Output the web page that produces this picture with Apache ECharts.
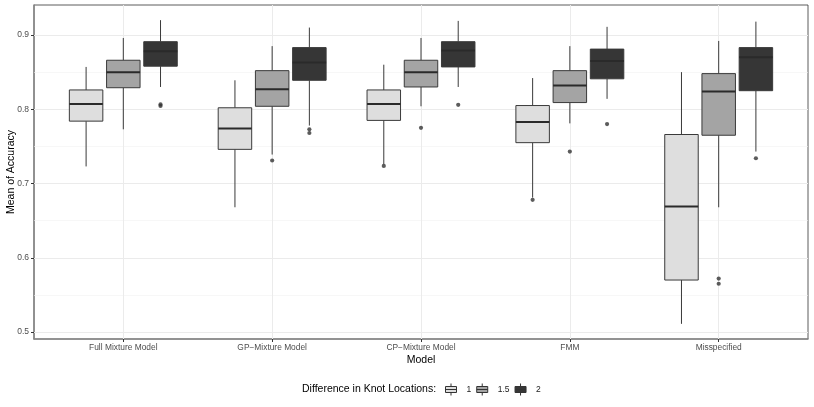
<!DOCTYPE html>
<html>
<head>
<meta charset="utf-8">
<script src="https://cdn.jsdelivr.net/npm/echarts@6/dist/echarts.min.js"></script>
<style>html,body{margin:0;padding:0;background:#fff}#c{width:814px;height:407px}</style>
</head>
<body>
<div id="c"></div>
<script>
// ---- data ----
const categories = ['Full Mixture Model', 'GP\u2212Mixture Model', 'CP\u2212Mixture Model', 'FMM', 'Misspecified'];
const groups = ['1', '1.5', '2'];
const yTicks = [0.5, 0.6, 0.7, 0.8, 0.9];
const yMinorTicks = [0.55, 0.65, 0.75, 0.85];
// [lower whisker, Q1, median, Q3, upper whisker] per category
const knot1 = [
  [0.723, 0.784, 0.807, 0.826, 0.857],
  [0.668, 0.746, 0.774, 0.802, 0.839],
  [0.726, 0.785, 0.807, 0.826, 0.860],
  [0.681, 0.755, 0.783, 0.805, 0.842],
  [0.511, 0.570, 0.669, 0.766, 0.850]
];
const knot15 = [
  [0.773, 0.829, 0.850, 0.866, 0.896],
  [0.739, 0.804, 0.827, 0.852, 0.885],
  [0.804, 0.830, 0.850, 0.866, 0.896],
  [0.781, 0.809, 0.832, 0.852, 0.885],
  [0.668, 0.765, 0.824, 0.848, 0.892]
];
const knot2 = [
  [0.830, 0.858, 0.878, 0.891, 0.920],
  [0.778, 0.839, 0.863, 0.883, 0.910],
  [0.830, 0.857, 0.879, 0.891, 0.919],
  [0.814, 0.841, 0.865, 0.881, 0.911],
  [0.743, 0.825, 0.870, 0.883, 0.918]
];
// [category index, group index, value]
const outliers = [
  [0, 2, 0.8065], [0, 2, 0.8045],
  [1, 1, 0.731], [1, 2, 0.773], [1, 2, 0.768],
  [2, 0, 0.7237], [2, 1, 0.775], [2, 2, 0.806],
  [3, 0, 0.678], [3, 1, 0.743], [3, 2, 0.780],
  [4, 1, 0.572], [4, 1, 0.565], [4, 2, 0.734]
];

// ---- styling ----
const fills = ['#dedede', '#a4a4a4', '#363636'];
const offsets = [-0.25, 0, 0.25];
const boxWidth = 0.225;
const lineCol = '#3a3a3a';
const FONT = 'Liberation Sans, Arial, Helvetica, sans-serif';

function renderBox(params, api) {
  const x = api.value(0);
  const lo = api.coord([x, api.value(1)]);
  const q1 = api.coord([x, api.value(2)]);
  const md = api.coord([x, api.value(3)]);
  const q3 = api.coord([x, api.value(4)]);
  const hi = api.coord([x, api.value(5)]);
  const hw = api.size([boxWidth, 0])[0] / 2;
  const cx = lo[0];
  const fill = api.visual('color');
  return {
    type: 'group',
    children: [
      { type: 'line', shape: { x1: cx, y1: hi[1], x2: cx, y2: q3[1] }, style: { stroke: lineCol, lineWidth: 1 } },
      { type: 'line', shape: { x1: cx, y1: q1[1], x2: cx, y2: lo[1] }, style: { stroke: lineCol, lineWidth: 1 } },
      { type: 'rect', shape: { x: cx - hw, y: q3[1], width: hw * 2, height: q1[1] - q3[1] }, style: { fill: fill, stroke: lineCol, lineWidth: 1 } },
      { type: 'line', shape: { x1: cx - hw, y1: md[1], x2: cx + hw, y2: md[1] }, style: { stroke: '#2a2a2a', lineWidth: 2 } }
    ]
  };
}

const groupData = [knot1, knot15, knot2];
const boxSeries = groupData.map((arr, g) => ({
  name: groups[g],
  type: 'custom',
  renderItem: renderBox,
  itemStyle: { color: fills[g] },
  encode: { x: 0, y: [1, 2, 3, 4, 5] },
  data: arr.map((v, i) => [i + offsets[g]].concat(v)),
  z: 10
}));

const gridMarks = {
  name: 'grid',
  type: 'scatter',
  data: [],
  silent: true,
  z: 1,
  markLine: {
    silent: true,
    symbol: 'none',
    animation: false,
    z: 1,
    label: { show: false },
    data: [
      ...yTicks.map(v => ({ yAxis: v, lineStyle: { color: '#ebebeb', width: 1, type: 'solid' } })),
      ...yMinorTicks.map(v => ({ yAxis: v, lineStyle: { color: '#f2f2f2', width: 0.6, type: 'solid' } })),
      ...categories.map((c, i) => ({ xAxis: i, lineStyle: { color: '#ebebeb', width: 1, type: 'solid' } }))
    ]
  }
};

const outlierSeries = {
  name: 'outliers',
  type: 'scatter',
  symbolSize: 4.2,
  itemStyle: { color: '#333333' },
  data: outliers.map(o => [o[0] + offsets[o[1]], o[2]]),
  z: 12
};

const boxIcon = 'path://M5.5,0L5.5,3M0,3L11,3L11,9L0,9ZM0,6L11,6M5.5,9L5.5,12';

const chart = echarts.init(document.getElementById('c'), null, { renderer: 'canvas' });
chart.setOption({
  animation: false,
  backgroundColor: '#ffffff',
  textStyle: { fontFamily: FONT },
  grid: { left: 34, right: 6, top: 5, bottom: 68, containLabel: false, outerBoundsMode: 'none', show: true, borderColor: '#333333', borderWidth: 0.8, backgroundColor: 'transparent' },
  xAxis: {
    type: 'value',
    min: -0.6,
    max: 4.6,
    name: 'Model',
    nameLocation: 'middle',
    nameGap: 15.5,
    nameMoveOverlap: false,
    nameTextStyle: { color: '#000', fontSize: 10.5, fontFamily: FONT },
    axisLine: { show: true, onZero: false, lineStyle: { color: '#8a8a8a', width: 1.6 } },
    axisTick: { show: true, length: 3, customValues: categories.map((c, i) => i), lineStyle: { color: '#333' } },
    axisLabel: { show: true, margin: 5, customValues: categories.map((c, i) => i), formatter: v => categories[Math.round(v)], color: '#4d4d4d', fontSize: 8.4, fontFamily: FONT },
    splitLine: { show: false }
  },
  yAxis: {
    type: 'value',
    min: 0.4906,
    max: 0.9404,
    name: 'Mean of Accuracy',
    nameLocation: 'middle',
    nameGap: 17,
    nameRotate: 90,
    nameMoveOverlap: false,
    nameTextStyle: { color: '#000', fontSize: 10.5, fontFamily: FONT },
    axisLine: { show: true, onZero: false, lineStyle: { color: '#8a8a8a', width: 1.6 } },
    axisTick: { show: true, length: 3, customValues: yTicks, lineStyle: { color: '#333' } },
    axisLabel: { show: true, margin: 5, customValues: yTicks, formatter: v => v.toFixed(1), color: '#4d4d4d', fontSize: 8.5, fontFamily: FONT },
    splitLine: { show: false }
  },
  legend: {
    left: 445,
    top: 383,
    padding: 0,
    orient: 'horizontal',
    itemWidth: 11,
    itemHeight: 12,
    itemGap: 5,
    selectedMode: false,
    formatter: n => '{t|' + n + '}',
    textStyle: { rich: { t: { padding: [0, 0, 0, 5], fontSize: 8.5, color: '#222', fontFamily: FONT } } },
    data: groups.map((g, i) => ({
      name: g,
      icon: boxIcon,
      itemStyle: { color: fills[i], borderColor: '#333333', borderWidth: 1 }
    }))
  },
  graphic: [{
    type: 'text',
    left: 302,
    top: 383.5,
    style: { text: 'Difference in Knot Locations:', fontSize: 10.5, fill: '#000', fontFamily: FONT }
  }],
  series: [gridMarks, ...boxSeries, outlierSeries]
});
</script>
</body>
</html>
